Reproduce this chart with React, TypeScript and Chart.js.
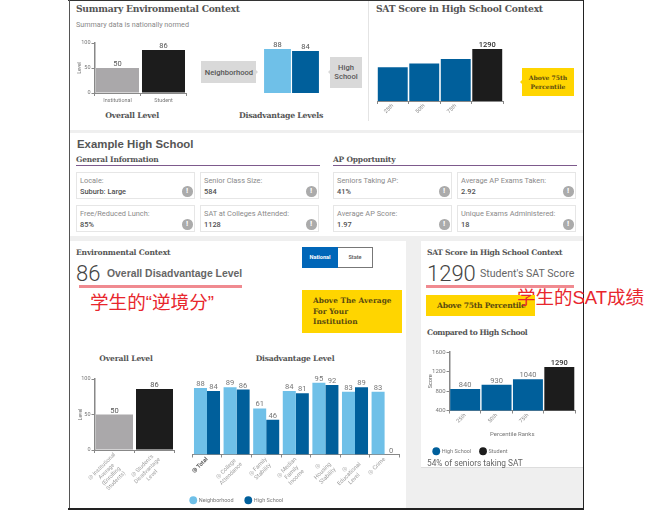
import React, { useEffect, useRef } from "react";
import { Chart, registerables } from "chart.js";

Chart.register(...registerables);

// ---------- data ----------
const overallLabelsTop = ["Institutional", "Student"];
const overallValues = [50, 86];
const disadvTopLabels = ["Neighborhood", "High School"];
const disadvTopValues = [88, 84];
const satPercentiles = ["25th", "50th", "75th", ""];
const satHighSchool = [840, 930, 1040, null];
const satStudent = [null, null, null, 1290];
const overallLabelsBottom = [
  ["◎ Institutional", "Average", "(Enrolling", "Students)"],
  ["◎ Student's", "Disadvantage", "Level"],
];
const disadvCategories = [
  ["◎ Total"],
  ["◎ College", "Attendance"],
  ["◎ Family", "Stability"],
  ["◎ Median", "Family", "Income"],
  ["◎", "Housing", "Stability"],
  ["◎", "Educational", "Level"],
  ["◎ Crime"],
];
const neighborhoodValues = [88, 89, 61, 84, 95, 83, 83];
const highSchoolValues = [84, 86, 46, 81, 92, 89, 0];
const generalInfo = [
  ["Locale:", "Suburb: Large"],
  ["Senior Class Size:", "584"],
  ["Free/Reduced Lunch:", "85%"],
  ["SAT at Colleges Attended:", "1128"],
];
const apInfo = [
  ["Seniors Taking AP:", "41%"],
  ["Average AP Exams Taken:", "2.92"],
  ["Average AP Score:", "1.97"],
  ["Unique Exams Administered:", "18"],
];

// ---------- styles ----------
const LIGHT_BLUE = "#6fc0e8";
const DARK_BLUE = "#005f9b";
const BLACK = "#1c1c1c";
const GREY_BAR = "#aaa8aa";
const SLAB = '"DejaVu Serif", serif';
const ROBOTO = 'Roboto, sans-serif';
const SANS = '"Liberation Sans", sans-serif';
const CJK = '"Liberation Sans", "Noto Sans CJK SC", sans-serif';

const valueLabels = {
  id: "valueLabels",
  afterDatasetsDraw(chart: any, _a: any, opts: any) {
    const ctx = chart.ctx;
    ctx.save();
    ctx.textAlign = "center";
    ctx.textBaseline = "alphabetic";
    chart.data.datasets.forEach((ds: any, di: number) => {
      const meta = chart.getDatasetMeta(di);
      meta.data.forEach((bar: any, i: number) => {
        const v = ds.data[i];
        if (v === null || v === undefined) return;
        if (opts.only && !opts.only.includes(v)) return;
        const bold = opts.boldValues && opts.boldValues.includes(v);
        ctx.font = `${bold ? "500 " : ""}${opts.size}px ${ROBOTO}`;
        ctx.fillStyle = bold ? "#333" : opts.color;
        ctx.fillText(String(v), bar.x, bar.y - (opts.gap ?? 2));
      });
    });
    ctx.restore();
  },
};

// Rotated multi-line tick labels: centre each line, first line ending at the tick.
const centredTickLines = {
  id: "centredTickLines",
  beforeDraw(chart: any) {
    const s = chart.scales.x;
    if (!s || s.options.display === false || !s.labelRotation) return;
    const ctx = chart.ctx;
    ctx.save();
    const c = Math.SQRT1_2;
    s.getLabelItems().forEach((it: any, i: number) => {
      const lines = Array.isArray(it.label) ? it.label : [it.label];
      ctx.font = it.font.string;
      const W = Math.max(...lines.map((l: string) => ctx.measureText(l).width));
      const lh = it.font.lineHeight;
      const n = lines.length;
      const px = s.getPixelForTick(i);
      it.options.textAlign = "center";
      it.options.textBaseline = "middle";
      it.textOffset = (-(n - 1) * lh) / 2;
      it.options.translation = [
        px - (W / 2) * c + ((n - 1) * lh * c) / 2,
        s.top + 4 + (W / 2) * c + ((n - 1) * lh * c) / 2,
      ];
    });
    ctx.restore();
  },
};

type Box = { l: number; t: number; w: number; h: number };
type Plot = { x1: number; y1: number; x2: number; y2: number; yw: number; xh: number };

function BarChart({ box, plot, build }: { box: Box; plot: Plot; build: () => any }) {
  const ref = useRef<HTMLCanvasElement>(null);
  useEffect(() => {
    const cfg = build();
    const o = cfg.options;
    o.animation = false;
    o.responsive = false;
    o.maintainAspectRatio = false;
    o.layout = {
      autoPadding: false,
      padding: {
        left: plot.x1 - box.l - plot.yw,
        top: plot.y1 - box.t,
        right: box.l + box.w - plot.x2,
        bottom: cfg.bottomPad ?? box.t + box.h - plot.y2 - plot.xh,
      },
    };
    o.scales.x.afterFit = (s: any) => { s.height = plot.xh; };
    o.scales.y.afterFit = (s: any) => { s.width = plot.yw; };
    cfg.plugins = [valueLabels, centredTickLines];
    const chart = new Chart(ref.current!, cfg);
    return () => chart.destroy();
  }, []);
  return (
    <canvas
      ref={ref}
      width={box.w}
      height={box.h}
      style={{ position: "absolute", left: box.l, top: box.t, width: box.w, height: box.h }}
    />
  );
}

const xAxis = (size: number, color: string, rotated: boolean, extra: any = {}) => ({
  grid: { display: true, drawOnChartArea: false, drawTicks: true, tickLength: 3, color: "#888", lineWidth: 1 },
  border: { display: true, color: "#888", width: 1 },
  ticks: {
    autoSkip: false,
    padding: 1,
    color,
    font: { family: ROBOTO, size },
    minRotation: rotated ? 45 : 0,
    maxRotation: rotated ? 45 : 0,
  },
  ...extra,
});

const yAxis = (min: number, max: number, step: number, size: number, title: string, titlePad = 0) => ({
  min,
  max,
  grid: { display: true, drawOnChartArea: false, drawTicks: true, tickLength: 3, color: "#888" },
  border: { display: true, color: "#888", width: 1.5 },
  ticks: { stepSize: step, padding: 1, color: "#777", font: { family: ROBOTO, size }, callback: (v: any) => String(v) },
  title: { display: true, text: title, color: "#666", padding: { top: titlePad, bottom: 0 }, font: { family: ROBOTO, size: size - 0.5 } },
});

const hiddenAxis = (extra: any = {}) => ({ display: false, ...extra });

const blankYAxis = (min: number, max: number) => ({
  min,
  max,
  grid: { display: false },
  border: { display: false },
  ticks: { display: false },
});

// ---------- HTML helpers ----------
function T({ x, y, s, f = ROBOTO, c = "#555", w = 400, ls = 0, center = false, children }: any) {
  return (
    <div
      style={{
        position: "absolute",
        left: x,
        top: y,
        fontFamily: f,
        fontSize: s,
        color: c,
        fontWeight: w,
        letterSpacing: ls,
        lineHeight: 1,
        whiteSpace: "nowrap",
        transform: center ? "translate(-50%,-50%)" : "translateY(-50%)",
      }}
    >
      {children}
    </div>
  );
}

function R({ x, y, w, h, c, extra = {}, children }: any) {
  return <div style={{ position: "absolute", left: x, top: y, width: w, height: h, background: c, ...extra }}>{children}</div>;
}

function Arrow({ x, y, dir, c }: any) {
  const base = { position: "absolute" as const, left: x, top: y - 2.5, width: 0, height: 0, borderTop: "2.5px solid transparent", borderBottom: "2.5px solid transparent" };
  return <div style={dir === "r" ? { ...base, borderLeft: `2.5px solid ${c}` } : { ...base, borderRight: `2.5px solid ${c}` }} />;
}

function Card({ x, y, label, value }: any) {
  return (
    <>
      <R x={x} y={y} w={119} h={27} c="#fff" extra={{ border: "1px solid #e6e6e6", boxSizing: "border-box" }} />
      <T x={x + 4} y={y + 9} s={7.4} c="#8a8a8a">{label}</T>
      <T x={x + 4} y={y + 19.5} s={7.4} c="#505050" w={500}>{value}</T>
      <R x={x + 106} y={y + 14} w={10.5} h={10.5} c="#ababab" extra={{ borderRadius: "50%" }} />
      <T x={x + 111.2} y={y + 19.2} s={8} c="#fff" w={700} center>!</T>
    </>
  );
}

function Section({ x, title, items }: any) {
  return (
    <>
      <T x={x} y={160} s={7.5} f={SLAB} w={700} c="#555" ls={-0.2}>{title}</T>
      <R x={x} y={165} w={244} h={1.3} c="#7d5a8c" />
      <Card x={x} y={172} label={items[0][0]} value={items[0][1]} />
      <Card x={x + 124} y={172} label={items[1][0]} value={items[1][1]} />
      <Card x={x} y={205} label={items[2][0]} value={items[2][1]} />
      <Card x={x + 124} y={205} label={items[3][0]} value={items[3][1]} />
    </>
  );
}

export default function App() {
  return (
    <div style={{ position: "absolute", left: 0, top: 0, width: 647, height: 510, overflow: "hidden", background: "#fff", filter: "blur(0.3px)" }}>
      {/* page frame + panels */}
      <R x={70} y={1} w={513} h={507} c="#efefef" />
      <R x={70} y={1} w={513} h={129} c="#fff" />
      <R x={70} y={133} w={513} h={103} c="#fff" />
      <R x={70} y={241} w={336} h={267} c="#fff" />
      <R x={421} y={241} w={162} h={227} c="#fff" extra={{ borderBottom: "1px solid #ddd", boxSizing: "border-box" }} />
      <R x={368} y={1} w={1} h={120} c="#e4e4e4" />
      <R x={68} y={0} w={516} h={1} c="#333" />
      <R x={68.5} y={0} w={1.5} h={509} c="#555" />
      <R x={582.5} y={0} w={1} h={509} c="#222" />
      <R x={68} y={508} w={516} h={1.5} c="#222" />

      {/* top-left panel */}
      <T x={76} y={8.5} s={9.2} f={SLAB} w={700} c="#555" ls={-0.26}>Summary Environmental Context</T>
      <T x={76} y={24.5} s={7.2} c="#888">Summary data is nationally normed</T>
      <T x={132} y={116} s={7.8} f={SLAB} w={700} c="#555" ls={-0.25} center>Overall Level</T>
      <T x={281} y={116} s={7.8} f={SLAB} w={700} c="#555" ls={-0.25} center>Disadvantage Levels</T>

      <R x={201} y={61} w={55} h={22} c="#d9d9d9" />
      <Arrow x={256} y={72} dir="r" c="#d9d9d9" />
      <T x={229} y={72.5} s={7.6} w={500} c="#555" center>Neighborhood</T>
      <R x={330} y={57} w={32} h={31} c="#d9d9d9" />
      <Arrow x={327.5} y={72} dir="l" c="#d9d9d9" />
      <T x={346} y={68} s={7.6} w={500} c="#555" center>High</T>
      <T x={346} y={77} s={7.6} w={500} c="#555" center>School</T>

      <BarChart
        box={{ l: 70, t: 33, w: 125, h: 75 }}
        plot={{ x1: 94.5, y1: 43, x2: 186.5, y2: 93, yw: 17.5, xh: 12 }}
        build={() => ({
          type: "bar",
          data: { labels: overallLabelsTop, datasets: [{ data: overallValues, backgroundColor: [GREY_BAR, BLACK], barPercentage: 0.935, categoryPercentage: 1 }] },
          options: {
            plugins: { legend: { display: false }, tooltip: { enabled: false }, valueLabels: { size: 7.5, color: "#555" } },
            scales: { x: xAxis(5.4, "#777", false), y: yAxis(0, 100, 50, 5.5, "Level") },
          },
        })}
      />
      <BarChart
        box={{ l: 255, t: 35, w: 75, h: 65 }}
        plot={{ x1: 263.5, y1: 43, x2: 319.5, y2: 93, yw: 0, xh: 0 }}
        build={() => ({
          type: "bar",
          data: { labels: disadvTopLabels, datasets: [{ data: disadvTopValues, backgroundColor: [LIGHT_BLUE, DARK_BLUE], barPercentage: 0.96, categoryPercentage: 1 }] },
          options: {
            plugins: { legend: { display: false }, tooltip: { enabled: false }, valueLabels: { size: 7.5, color: "#555" } },
            scales: { x: hiddenAxis(), y: hiddenAxis({ min: 0, max: 100 }) },
          },
        })}
      />

      {/* top-right panel */}
      <T x={376} y={8.5} s={9.2} f={SLAB} w={700} c="#555" ls={-0.26}>SAT Score in High School Context</T>
      <R x={522} y={68} w={52} h={28} c="#ffd500" />
      <Arrow x={519.5} y={82} dir="l" c="#ffd500" />
      <T x={548} y={77.5} s={6.1} f={SLAB} w={700} c="#5a4a10" center>Above 75th</T>
      <T x={548} y={86.5} s={6.1} f={SLAB} w={700} c="#5a4a10" center>Percentile</T>
      <BarChart
        box={{ l: 350, t: 30, w: 165, h: 92 }}
        plot={{ x1: 377, y1: 36.5, x2: 503, y2: 101, yw: 0, xh: 21 }}
        build={() => ({
          type: "bar",
          data: {
            labels: satPercentiles,
            datasets: [
              { data: satHighSchool, backgroundColor: DARK_BLUE, stack: "s", barPercentage: 0.95, categoryPercentage: 1 },
              { data: satStudent, backgroundColor: BLACK, stack: "s", barPercentage: 0.95, categoryPercentage: 1 },
            ],
          },
          options: {
            plugins: { legend: { display: false }, tooltip: { enabled: false }, valueLabels: { size: 7.5, color: "#555", only: [1290], boldValues: [1290] } },
            scales: { x: { ...xAxis(5.4, "#888", true), stacked: true }, y: hiddenAxis({ min: 0, max: 1600, stacked: true }) },
          },
        })}
      />

      {/* middle panel */}
      <T x={77} y={145} s={11.4} f={SANS} w={700} c="#555">Example High School</T>
      <Section x={76} title="General Information" items={generalInfo} />
      <Section x={333} title="AP Opportunity" items={apInfo} />

      {/* bottom-left panel */}
      <T x={76} y={253} s={7.6} f={SLAB} w={700} c="#555" ls={-0.2}>Environmental Context</T>
      <T x={76} y={274} s={22} w={300} c="#444">86</T>
      <T x={107} y={274} s={10.4} f={SANS} w={700} c="#666">Overall Disadvantage Level</T>
      <R x={79} y={285} w={163} h={3} c="#f08a90" />
      <T x={90} y={303} s={18.6} f={CJK} c="#e8262d">学生的“逆境分”</T>

      <R x={302} y={247} w={71} h={21} c="#fff" extra={{ border: "1px solid #777", boxSizing: "border-box" }} />
      <R x={302} y={247} w={36} h={21} c="#0066b8" />
      <T x={320} y={258} s={5.6} w={700} c="#fff" center>National</T>
      <T x={355} y={258} s={5.6} w={500} c="#555" center>State</T>

      <R x={302} y={290} w={99.5} h={43} c="#ffd500" />
      <T x={313} y={301} s={7.4} f={SLAB} w={700} c="#5a4a10">Above The Average</T>
      <T x={313} y={311.5} s={7.4} f={SLAB} w={700} c="#5a4a10">For Your</T>
      <T x={313} y={322} s={7.4} f={SLAB} w={700} c="#5a4a10">Institution</T>

      <T x={126} y={359} s={7.6} f={SLAB} w={700} c="#555" ls={-0.15} center>Overall Level</T>
      <T x={295} y={359} s={7.6} f={SLAB} w={700} c="#555" ls={-0.2} center>Disadvantage Level</T>

      <BarChart
        box={{ l: 72, t: 368, w: 120, h: 130 }}
        plot={{ x1: 94.5, y1: 379, x2: 174.5, y2: 450, yw: 17, xh: 48 }}
        build={() => ({
          type: "bar",
          data: { labels: overallLabelsBottom, datasets: [{ data: overallValues, backgroundColor: [GREY_BAR, BLACK], barPercentage: 0.925, categoryPercentage: 1 }] },
          options: {
            plugins: { legend: { display: false }, tooltip: { enabled: false }, valueLabels: { size: 7.5, color: "#555" } },
            scales: { x: xAxis(5.6, "#a0a0a0", true), y: yAxis(0, 100, 50, 5.5, "Level") },
          },
        })}
      />
      <BarChart
        box={{ l: 150, t: 368, w: 256, h: 145 }}
        plot={{ x1: 192.2, y1: 379, x2: 399.4, y2: 450, yw: 13.7, xh: 31 }}
        build={() => ({
          type: "bar",
          bottomPad: 0,
          data: {
            labels: disadvCategories,
            datasets: [
              { label: "Neighborhood", data: neighborhoodValues, backgroundColor: LIGHT_BLUE, barPercentage: 1, categoryPercentage: 0.88 },
              { label: "High School", data: highSchoolValues, backgroundColor: DARK_BLUE, barPercentage: 1, categoryPercentage: 0.88 },
            ],
          },
          options: {
            plugins: {
              tooltip: { enabled: false },
              valueLabels: { size: 7.6, color: "#777" },
              legend: {
                position: "bottom",
                align: "start",
                labels: { usePointStyle: true, boxWidth: 7, boxHeight: 5.5, padding: 12, color: "#777", font: { family: ROBOTO, size: 5.5 } },
              },
            },
            scales: {
              x: (() => {
                const a: any = xAxis(5.6, "#a0a0a0", true);
                a.ticks.font = (c: any) => ({ family: ROBOTO, size: 5.8, weight: c.index === 0 ? "700" : "400" });
                a.ticks.color = (c: any) => (c.index === 0 ? "#555" : "#a0a0a0");
                return a;
              })(),
              y: blankYAxis(0, 100),
            },
          },
        })}
      />

      {/* bottom-right panel */}
      <T x={427} y={253} s={7.6} f={SLAB} w={700} c="#555" ls={-0.3}>SAT Score in High School Context</T>
      <T x={427} y={274} s={22} w={300} c="#444">1290</T>
      <T x={480} y={274} s={10.6} c="#666">Student's SAT Score</T>
      <R x={426} y={284.5} w={148} h={3} c="#f08a90" />
      <R x={426} y={295} w={109} h={21} c="#ffd500" />
      <T x={437} y={305.5} s={7.6} f={SLAB} w={700} c="#5a4a10" ls={-0.25}>Above 75th Percentile</T>
      <T x={517} y={298} s={18.5} f={CJK} c="#e8262d">学生的SAT成绩</T>
      <T x={427} y={333} s={7.6} f={SLAB} w={700} c="#555" ls={-0.4}>Compared to High School</T>
      <BarChart
        box={{ l: 415, t: 342, w: 168, h: 122 }}
        plot={{ x1: 449.5, y1: 352, x2: 575, y2: 410, yw: 25, xh: 29 }}
        build={() => ({
          type: "bar",
          bottomPad: 0,
          data: {
            labels: satPercentiles,
            datasets: [
              { label: "High School", data: satHighSchool, backgroundColor: DARK_BLUE, stack: "s", barPercentage: 0.955, categoryPercentage: 1 },
              { label: "Student", data: satStudent, backgroundColor: BLACK, stack: "s", barPercentage: 0.955, categoryPercentage: 1 },
            ],
          },
          options: {
            plugins: {
              tooltip: { enabled: false },
              valueLabels: { size: 7.5, color: "#777", boldValues: [1290] },
              legend: {
                position: "bottom",
                align: "start",
                labels: { usePointStyle: true, boxWidth: 7, boxHeight: 5.5, padding: 9, color: "#777", font: { family: ROBOTO, size: 5.5 } },
              },
            },
            scales: {
              x: {
                ...xAxis(5.4, "#888", true),
                stacked: true,
                title: { display: true, text: "Percentile Ranks", color: "#777", padding: { top: 0, bottom: 1 }, font: { family: ROBOTO, size: 6 } },
              },
              y: { ...yAxis(400, 1600, 400, 6, "Score", 3), stacked: true },
            },
          },
        })}
      />
      <T x={427} y={463} s={8.3} c="#666">54% of seniors taking SAT</T>
    </div>
  );
}
